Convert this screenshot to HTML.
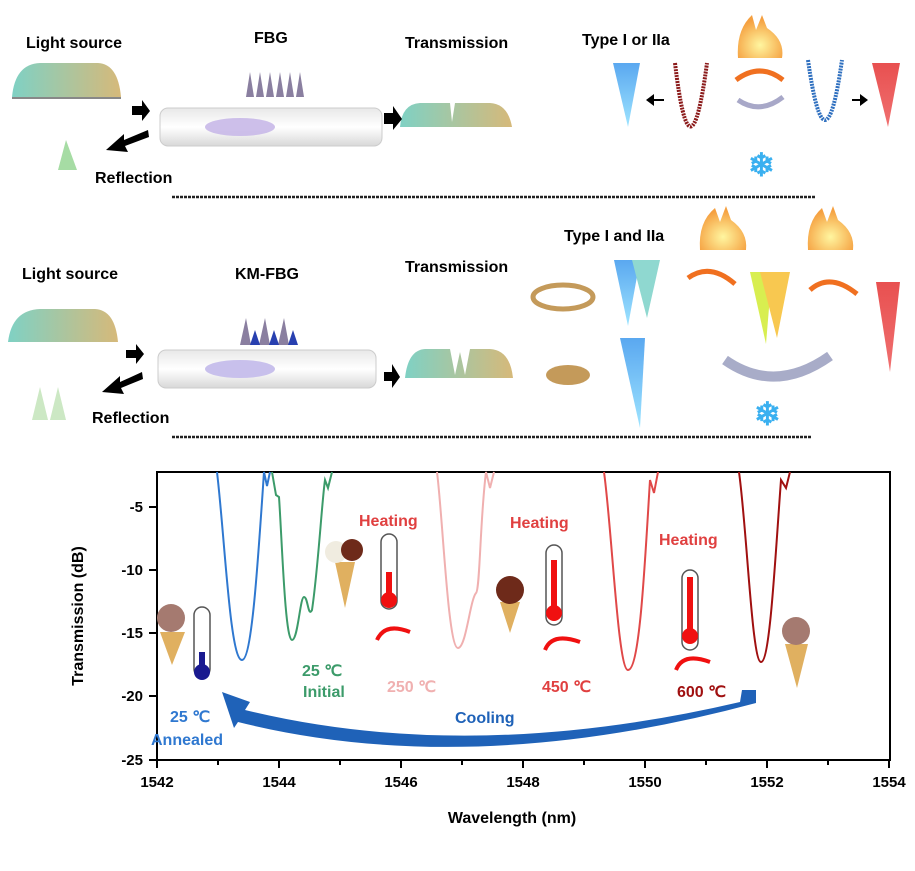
<!DOCTYPE html>
<html><head><meta charset="utf-8"><style>
html,body{margin:0;padding:0;background:#fff}
svg{display:block}
text{font-family:"Liberation Sans",sans-serif;font-weight:bold}
</style></head><body>
<svg width="915" height="871" viewBox="0 0 915 871" xmlns="http://www.w3.org/2000/svg">
<defs>
<linearGradient id="src" x1="0" x2="1"><stop offset="0" stop-color="#7fd1c4"/><stop offset="1" stop-color="#d6b97a"/></linearGradient>
<linearGradient id="tube" x1="0" y1="0" x2="0" y2="1"><stop offset="0" stop-color="#e8e8e8"/><stop offset=".5" stop-color="#fff"/><stop offset="1" stop-color="#d8d8d8"/></linearGradient>
<linearGradient id="blueC" x1="0" y1="0" x2="0" y2="1"><stop offset="0" stop-color="#5aa8f0"/><stop offset="1" stop-color="#9ee4ff"/></linearGradient>
<linearGradient id="redC" x1="0" y1="0" x2="0" y2="1"><stop offset="0" stop-color="#e85050"/><stop offset="1" stop-color="#f07070"/></linearGradient>
<radialGradient id="fire" cx=".5" cy=".7" r=".6"><stop offset="0" stop-color="#fff6a0"/><stop offset="1" stop-color="#f5a040"/></radialGradient>
</defs>
<!-- top section -->
<text x="26" y="48" font-size="16">Light source</text>
<text x="254" y="43" font-size="16">FBG</text>
<text x="405" y="48" font-size="16">Transmission</text>
<text x="582" y="45" font-size="16">Type I or IIa</text>
<text x="95" y="183" font-size="16">Reflection</text>
<path d="M12,97 Q15,64 40,63 L98,63 Q118,64 121,97 Z" fill="url(#src)"/>
<path d="M12,97 L121,97 L121,99 L12,99Z" fill="#888"/>
<path d="M400,127 Q402,104 420,103 L450,103 L452,122 L455,103 L490,103 Q508,104 512,127 Z" fill="url(#src)"/>
<rect x="160" y="108" width="222" height="38" rx="8" fill="url(#tube)" stroke="#ccc"/>
<ellipse cx="240" cy="127" rx="35" ry="9" fill="#c8b8e8" opacity=".9"/>
<g fill="#8a7fa0"><path d="M246,97 L250,72 L254,97Z M256,97 L260,72 L264,97Z M266,97 L270,72 L274,97Z M276,97 L280,72 L284,97Z M286,97 L290,72 L294,97Z M296,97 L300,72 L304,97Z"/></g>
<path d="M58,170 L66,140 L77,170Z" fill="#a6dca4"/>
<g fill="#000"><path d="M132,106 L142,106 L142,100 L150,111 L142,121 L142,115 L132,115Z"/>
<path d="M384,113 L393,113 L393,106 L402,119 L393,130 L393,124 L384,124Z"/>
<path d="M148,130 L124,140 L124,134 L106,150 L128,152 L125,146 L149,137 Z"/>
<path d="M664,99 L654,99 L654,94 L646,100 L654,106 L654,101 L664,101Z"/>
<path d="M852,99 L860,99 L860,94 L868,100 L860,106 L860,101 L852,101Z"/></g>
<path d="M613,63 L640,63 L628,127Z" fill="url(#blueC)"/>
<path d="M872,63 L900,63 L888,127Z" fill="url(#redC)"/>
<path d="M675,63 Q690,190 707,63" fill="none" stroke="#8b1a1a" stroke-width="4" stroke-dasharray="2,1"/>
<path d="M808,60 Q825,180 842,60" fill="none" stroke="#2e6fbf" stroke-width="4" stroke-dasharray="2,1"/>
<path d="M738,58 Q736,30 752,15 L756,30 L762,15 L767,28 Q785,40 782,58 Z" fill="url(#fire)"/>
<path d="M736,80 Q760,62 783,80" fill="none" stroke="#f07020" stroke-width="5"/>
<path d="M738,100 Q760,115 783,97" fill="none" stroke="#a8a8c8" stroke-width="5"/>
<text x="748" y="176" font-size="32" fill="#3ab0f0" font-weight="normal">❄</text>
<line x1="172" y1="197" x2="815" y2="197" stroke="#222" stroke-width="2.5" stroke-dasharray="3,1"/>
<!-- middle -->
<text x="22" y="279" font-size="16">Light source</text>
<text x="235" y="279" font-size="16">KM-FBG</text>
<text x="405" y="272" font-size="16">Transmission</text>
<text x="564" y="241" font-size="16">Type I and IIa</text>
<text x="92" y="423" font-size="16">Reflection</text>
<path d="M8,342 Q12,310 40,309 L95,309 Q115,310 118,342 Z" fill="url(#src)"/>
<path d="M405,378 Q408,350 425,349 L450,349 L455,375 L460,352 L465,375 L470,349 L490,349 Q510,350 513,378Z" fill="url(#src)"/>
<rect x="158" y="350" width="218" height="38" rx="8" fill="url(#tube)" stroke="#ccc"/>
<ellipse cx="240" cy="369" rx="35" ry="9" fill="#c8c0ec"/>
<g fill="#8a7fa0"><path d="M240,345 L246,318 L251,345Z M259,345 L265,318 L270,345Z M278,345 L284,318 L289,345Z"/></g>
<g fill="#2840b0"><path d="M250,345 L255,330 L260,345Z M269,345 L274,330 L279,345Z M288,345 L293,330 L298,345Z"/></g>
<path d="M32,420 L40,387 L48,420Z M50,420 L58,387 L66,420Z" fill="#cce8c4"/>
<g fill="#000"><path d="M126,350 L136,350 L136,344 L144,354 L136,364 L136,358 L126,358Z"/>
<path d="M384,372 L392,372 L392,364 L400,377 L392,388 L392,381 L384,381Z"/>
<path d="M142,372 L120,382 L120,376 L102,392 L124,394 L121,388 L143,379 Z"/></g>
<ellipse cx="563" cy="297" rx="30" ry="12" fill="none" stroke="#c49a5a" stroke-width="5"/>
<ellipse cx="568" cy="375" rx="22" ry="10" fill="#c49a5a"/>
<path d="M614,260 L640,260 L628,326Z" fill="url(#blueC)"/>
<path d="M632,260 L660,260 L647,318Z" fill="#8fd8d0"/>
<path d="M620,338 L645,338 L640,428Z" fill="url(#blueC)"/>
<path d="M750,272 L772,272 L766,344Z" fill="#d8ee50"/>
<path d="M760,272 L790,272 L777,338Z" fill="#f8c850"/>
<path d="M876,282 L900,282 L890,372Z" fill="url(#redC)"/>
<path d="M700,250 Q698,222 715,208 L720,222 L726,206 L731,220 Q748,232 746,250Z" fill="url(#fire)"/>
<path d="M808,250 Q806,222 822,208 L827,222 L833,206 L838,220 Q855,232 853,250Z" fill="url(#fire)"/>
<path d="M688,278 Q710,262 735,284" fill="none" stroke="#f07020" stroke-width="5"/>
<path d="M810,290 Q830,272 857,294" fill="none" stroke="#f07020" stroke-width="5"/>
<path d="M725,360 Q775,395 830,356" fill="none" stroke="#a8acc8" stroke-width="10"/>
<text x="754" y="425" font-size="32" fill="#3ab0f0" font-weight="normal">❄</text>
<line x1="172" y1="437" x2="812" y2="437" stroke="#222" stroke-width="2.5" stroke-dasharray="3,1"/>
<!-- chart -->
<rect x="157" y="472" width="733" height="288" fill="none" stroke="#000" stroke-width="2"/>
<g stroke="#000" stroke-width="2">
<line x1="157" y1="760" x2="157" y2="768"/><line x1="279" y1="760" x2="279" y2="768"/><line x1="401" y1="760" x2="401" y2="768"/><line x1="523" y1="760" x2="523" y2="768"/><line x1="645" y1="760" x2="645" y2="768"/><line x1="767" y1="760" x2="767" y2="768"/><line x1="889" y1="760" x2="889" y2="768"/>
<line x1="218" y1="760" x2="218" y2="765"/><line x1="340" y1="760" x2="340" y2="765"/><line x1="462" y1="760" x2="462" y2="765"/><line x1="584" y1="760" x2="584" y2="765"/><line x1="706" y1="760" x2="706" y2="765"/><line x1="828" y1="760" x2="828" y2="765"/>
<line x1="149" y1="507" x2="157" y2="507"/><line x1="149" y1="570" x2="157" y2="570"/><line x1="149" y1="633" x2="157" y2="633"/><line x1="149" y1="696" x2="157" y2="696"/><line x1="149" y1="760" x2="157" y2="760"/>
</g>
<g font-size="15" text-anchor="middle">
<text x="157" y="787">1542</text><text x="279" y="787">1544</text><text x="401" y="787">1546</text><text x="523" y="787">1548</text><text x="645" y="787">1550</text><text x="767" y="787">1552</text><text x="889" y="787">1554</text></g>
<g font-size="15" text-anchor="end">
<text x="143" y="512">-5</text><text x="143" y="575">-10</text><text x="143" y="638">-15</text><text x="143" y="701">-20</text><text x="143" y="765">-25</text></g>
<text x="512" y="823" font-size="16" text-anchor="middle">Wavelength (nm)</text>
<text transform="translate(83,616) rotate(-90)" font-size="16" text-anchor="middle">Transmission (dB)</text>
<g fill="none" stroke-width="2">
<path d="M217,472 C225,540 230,660 242,660 C252,660 258,560 264,472 L267,486 L270,472" stroke="#2f78d0"/>
<path d="M272,472 L276,495 L279,497 C282,540 285,640 292,640 C298,640 300,597 304,597 C308,597 308,618 312,610 C318,570 322,500 325,480 L328,488 L332,472" stroke="#3c9b6a"/>
<path d="M437,472 C443,520 448,648 458,648 C466,648 470,600 476,593 C480,590 480,520 486,472 L490,488 L494,472" stroke="#f0b0b0"/>
<path d="M604,472 C612,530 618,670 628,670 C640,670 645,560 650,480 L654,493 L658,472" stroke="#e04848"/>
<path d="M739,472 C747,530 752,662 761,662 C770,662 775,560 781,480 L786,488 L790,472" stroke="#a01010"/>
</g>
<path d="M222,692 L250,702 L245,710 Q470,765 740,702 L742,690 L756,690 L756,703 Q470,780 238,722 L234,728 Z" fill="#1f62b8"/>
<g font-size="16">
<text x="359" y="526" fill="#e04040">Heating</text>
<text x="510" y="528" fill="#e04040">Heating</text>
<text x="659" y="545" fill="#e04040">Heating</text>
<text x="302" y="676" fill="#3c9b6a">25 ℃</text>
<text x="303" y="697" fill="#3c9b6a">Initial</text>
<text x="387" y="692" fill="#f0b0b0">250 ℃</text>
<text x="542" y="692" fill="#e04040">450 ℃</text>
<text x="677" y="697" fill="#a01010">600 ℃</text>
<text x="170" y="722" fill="#2f78d0">25 ℃</text>
<text x="151" y="745" fill="#2f78d0">Annealed</text>
<text x="455" y="723" fill="#1f62b8">Cooling</text>
</g>
<g stroke="#555" stroke-width="1.5" fill="#fff">
<rect x="194" y="607" width="16" height="70" rx="8"/><rect x="381" y="534" width="16" height="75" rx="8"/><rect x="546" y="545" width="16" height="80" rx="8"/><rect x="682" y="570" width="16" height="80" rx="8"/></g>
<g fill="#1a1a90"><rect x="199" y="652" width="6" height="14"/><circle cx="202" cy="672" r="8"/></g>
<g fill="#f01010"><rect x="386" y="572" width="6" height="25"/><circle cx="389" cy="600" r="8"/>
<rect x="551" y="560" width="6" height="50"/><circle cx="554" cy="613" r="8"/>
<rect x="687" y="577" width="6" height="58"/><circle cx="690" cy="636" r="8"/></g>
<g fill="none" stroke="#f01010" stroke-width="4">
<path d="M377,640 Q385,622 410,632"/><path d="M545,650 Q552,632 580,642"/><path d="M676,670 Q683,652 710,662"/></g>
<g><path d="M160,632 L185,632 L172,665Z" fill="#e0b060"/><circle cx="171" cy="618" r="14" fill="#a57a70"/>
<path d="M335,562 L355,562 L345,608Z" fill="#e0b060"/><circle cx="336" cy="552" r="11" fill="#f0ece0"/><circle cx="352" cy="550" r="11" fill="#6e2a1a"/>
<path d="M500,602 L520,602 L510,633Z" fill="#e0b060"/><circle cx="510" cy="590" r="14" fill="#6e2a1a"/>
<path d="M785,644 L808,644 L797,688Z" fill="#e0b060"/><circle cx="796" cy="631" r="14" fill="#a57a70"/></g>
</svg>
</body></html>
